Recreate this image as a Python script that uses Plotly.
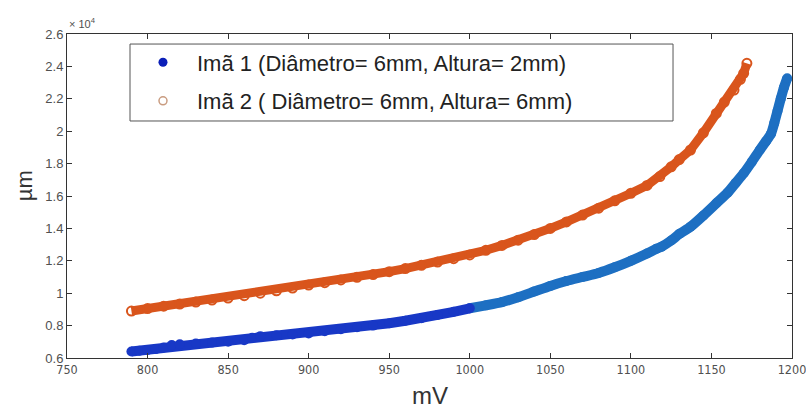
import plotly.graph_objects as go

# ---- data ----
# Imã 2 (orange, open circles): x in mV, y in µm
mv_ima2 = [790, 800, 810, 820, 830, 840, 850, 860, 870, 880, 890, 900, 910, 920, 930,
           940, 950, 960, 970, 980, 990, 1000, 1010, 1020, 1030, 1040, 1050, 1060,
           1070, 1080, 1090, 1100, 1110, 1118, 1125, 1130, 1137, 1145, 1153, 1158,
           1164, 1168, 1170, 1172]
um_ima2 = [8900, 9050, 9200, 9330, 9450, 9580, 9700, 9850, 10000, 10150, 10320, 10500,
           10650, 10820, 10980, 11150, 11330, 11520, 11720, 11920, 12130, 12360, 12650,
           12950, 13270, 13620, 14000, 14400, 14820, 15250, 15700, 16170, 16650, 17200,
           17800, 18250, 18840, 19900, 21100, 21800, 22540, 23200, 23570, 24190]

# Imã 1 (blue, filled dots)
mv_ima1 = [790, 795, 800, 805, 810, 815, 820, 830, 840, 850, 860, 865, 870, 880, 890,
           900, 910, 920, 930, 940, 950, 960, 970, 980, 990, 1000, 1010, 1020, 1030,
           1040, 1050, 1060, 1070, 1080, 1090, 1100, 1110, 1116, 1119, 1125, 1130,
           1137, 1145, 1153, 1160, 1165, 1170, 1175, 1180, 1184, 1187, 1189, 1191,
           1193, 1195, 1197]
um_ima1 = [6400, 6450, 6500, 6550, 6650, 6800, 6850, 6900, 6950, 7000, 7100, 7250, 7350,
           7400, 7450, 7520, 7650, 7780, 7900, 8000, 8150, 8300, 8450, 8650, 8850, 9070,
           9250, 9450, 9750, 10100, 10450, 10750, 11000, 11250, 11600, 12000, 12450,
           12750, 12870, 13250, 13650, 14100, 14800, 15550, 16200, 16800, 17400, 18100,
           18840, 19400, 19850, 20500, 21250, 22000, 22700, 23270]

x_ticks = [750, 800, 850, 900, 950, 1000, 1050, 1100, 1150, 1200]
y_ticks = [6000, 8000, 10000, 12000, 14000, 16000, 18000, 20000, 22000, 24000, 26000]
y_tick_labels = ["0.6", "0.8", "1", "1.2", "1.4", "1.6", "1.8", "2", "2.2", "2.4", "2.6"]

label_1 = "Imã 1 (Diâmetro= 6mm, Altura= 2mm)"
label_2 = "Imã 2 ( Diâmetro= 6mm, Altura= 6mm)"

# ---- styles ----
ORANGE = "#d9551c"
BLUE_DARK = "#1838c6"
BLUE_LIGHT = "#1d6fc2"
AXIS = "#333333"
TICKFONT_X = dict(family="Liberation Sans Narrow, DejaVu Sans Condensed, Arial Narrow, sans-serif",
                  size=12.5, color="#505050")
TICKFONT_Y = dict(family="Liberation Sans, Arial, sans-serif", size=13, color="#505050")

fig = go.Figure()

# orange band
fig.add_trace(go.Scatter(x=mv_ima2, y=um_ima2, mode="lines+markers",
                         line=dict(color=ORANGE, width=9),
                         marker=dict(symbol="circle-open", size=9, color=ORANGE,
                                     line=dict(width=2, color=ORANGE)),
                         showlegend=False, hoverinfo="skip"))

# blue band: darker for the lower part, lighter for the upper part
split = 1000
lo_x = [x for x in mv_ima1 if x <= split]
lo_y = [y for x, y in zip(mv_ima1, um_ima1) if x <= split]
hi_x = [x for x in mv_ima1 if x >= split]
hi_y = [y for x, y in zip(mv_ima1, um_ima1) if x >= split]
fig.add_trace(go.Scatter(x=hi_x, y=hi_y, mode="lines+markers",
                         line=dict(color=BLUE_LIGHT, width=10, shape="spline", smoothing=0.6),
                         marker=dict(symbol="circle", size=10, color=BLUE_LIGHT),
                         showlegend=False, hoverinfo="skip"))
fig.add_trace(go.Scatter(x=lo_x, y=lo_y, mode="lines+markers",
                         line=dict(color=BLUE_DARK, width=10),
                         marker=dict(symbol="circle", size=10, color=BLUE_DARK),
                         showlegend=False, hoverinfo="skip"))

# legend entries
fig.add_trace(go.Scatter(x=[None], y=[None], mode="markers", name=label_1,
                         legendgroup="a",
                         marker=dict(symbol="circle", size=9, color="#0b1fb8")))
fig.add_trace(go.Scatter(x=[None], y=[None], mode="markers", name=label_2,
                         legendgroup="b",
                         marker=dict(symbol="circle-open", size=8, color="#c99c80",
                                     line=dict(width=1.5, color="#c99c80"))))

fig.update_layout(
    width=806, height=410, autosize=False,
    margin=dict(l=67, r=14, t=34, b=52),
    paper_bgcolor="white", plot_bgcolor="white",
    showlegend=True,
    legend=dict(x=0.0855, y=0.977, xanchor="left", yanchor="top",
                bgcolor="rgba(0,0,0,0)", borderwidth=0,
                font=dict(family="Liberation Sans, Arial, sans-serif", size=22, color="#222222"),
                itemwidth=58, traceorder="grouped", tracegroupgap=7),
    xaxis=dict(range=[750, 1200], tickvals=x_ticks, ticks="inside", ticklen=5,
               tickcolor=AXIS, showline=True, linecolor=AXIS, linewidth=1,
               mirror="allticks", showgrid=False, zeroline=False, tickfont=TICKFONT_X,
               ticklabeloverflow="allow", automargin=False),
    yaxis=dict(range=[6000, 26000], tickvals=y_ticks, ticktext=y_tick_labels,
               ticks="inside", ticklen=5, tickcolor=AXIS, showline=True,
               linecolor=AXIS, linewidth=1, mirror="allticks", showgrid=False,
               zeroline=False, tickfont=TICKFONT_Y, automargin=False),
    shapes=[dict(type="rect", xref="paper", yref="paper",
                 x0=0.0869, x1=0.8359, y0=0.7315, y1=0.969,
                 line=dict(color="#555555", width=1), fillcolor="white", layer="above")],
    annotations=[
        dict(text="mV", xref="paper", yref="paper", x=0.5, y=0, yanchor="top",
             yshift=-22, showarrow=False,
             font=dict(family="Liberation Sans, Arial, sans-serif", size=24, color="#333333")),
        dict(text="µm", xref="paper", yref="paper", x=0, y=0.53, xanchor="center",
             xshift=-43, textangle=-90, showarrow=False,
             font=dict(family="Liberation Sans, Arial, sans-serif", size=22, color="#333333")),
        dict(text="× 10<sup>4</sup>", xref="paper", yref="paper", x=0, y=1,
             xanchor="left", yanchor="bottom", yshift=2, showarrow=False,
             font=dict(family="Liberation Sans, Arial, sans-serif", size=11, color="#505050")),
    ],
)

fig.write_html("out.html", config={"displayModeBar": False, "responsive": False},
               post_script="document.body.style.margin='0';document.body.style.padding='0';"
                           "document.body.style.overflow='hidden';")
